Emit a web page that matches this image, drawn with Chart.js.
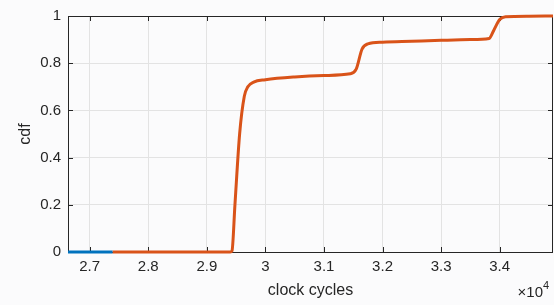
<!DOCTYPE html>
<html>
<head>
<meta charset="utf-8">
<script src="https://cdn.jsdelivr.net/npm/chart.js@4"></script>
<style>
  html, body { margin: 0; padding: 0; background: #fbfbfc; }
  #wrap { width: 554px; height: 305px; position: relative; }
</style>
</head>
<body>
<div id="wrap"><canvas id="cdfChart" width="554" height="305"></canvas></div>
<script>
// x range of the axes (clock cycles)
const xMin = 26630;
const xMax = 34910;
const xTicks = [27000, 28000, 29000, 30000, 31000, 32000, 33000, 34000];
const yTicks = [0, 0.2, 0.4, 0.6, 0.8, 1];

// blue series (only visible at the far left)
const blueX = [26630, 27390];
const blueY = [0, 0];

// orange series
const orangeX = [27390, 29400, 29430, 29480, 29560, 29640, 29700, 29800, 30000, 30500, 31000, 31450, 31550, 31650, 31750, 32000, 32500, 33000, 33500, 33820, 33900, 34000, 34100, 34500, 34910];
const orangeY = [0, 0, 0.005, 0.2, 0.5, 0.66, 0.70, 0.72, 0.73, 0.742, 0.748, 0.755, 0.775, 0.86, 0.882, 0.889, 0.893, 0.897, 0.900, 0.905, 0.94, 0.985, 0.997, 0.999, 1.0];

const toPoints = (xs, ys) => xs.map((x, i) => ({ x: x, y: ys[i] }));

const axisColor = '#262626';
const gridColor = '#e3e3e3';

// matlab style box with inward ticks, drawn under the lines
const boxPlugin = {
    id: 'boxTicks',
    beforeDatasetsDraw(chart) {
        const c = chart.ctx;
        const a = chart.chartArea;
        const xs = chart.scales.x;
        const ys = chart.scales.y;
        c.save();
        c.strokeStyle = axisColor;
        c.lineWidth = 1;
        c.beginPath();
        xTicks.forEach(v => {
            const px = Math.round(xs.getPixelForValue(v)) + 0.5;
            c.moveTo(px, a.bottom); c.lineTo(px, a.bottom - 5);
            c.moveTo(px, a.top); c.lineTo(px, a.top + 5);
        });
        yTicks.forEach(v => {
            const py = Math.round(ys.getPixelForValue(v)) + 0.5;
            c.moveTo(a.left, py); c.lineTo(a.left + 5, py);
            c.moveTo(a.right, py); c.lineTo(a.right - 5, py);
        });
        c.stroke();
        c.strokeRect(Math.round(a.left) + 0.5, Math.round(a.top) + 0.5,
            Math.round(a.right - a.left) - 1, Math.round(a.bottom - a.top));
        // x10^4 exponent label
        c.fillStyle = axisColor;
        c.font = '15px "Liberation Sans", Arial, sans-serif';
        c.textAlign = 'right';
        c.textBaseline = 'alphabetic';
        c.fillText('\u00d710', 543, 297);
        c.font = '11px "Liberation Sans", Arial, sans-serif';
        c.textAlign = 'left';
        c.fillText('4', 543, 289);
        c.restore();
    }
};

const ctx = document.getElementById('cdfChart').getContext('2d');

const cdfChart = new Chart(ctx, {
    type: 'line',
    data: {
        datasets: [{
            label: 'a',
            data: toPoints(blueX, blueY),
            borderColor: '#0072BD',
            borderWidth: 3,
            pointRadius: 0,
            fill: false,
            clip: 2
        },
        {
            label: 'b',
            data: toPoints(orangeX, orangeY),
            borderColor: '#D95319',
            borderWidth: 3,
            pointRadius: 0,
            fill: false,
            clip: 2,
            cubicInterpolationMode: 'monotone'
        }]
    },
    options: {
        responsive: false,
        animation: false,
        layout: { padding: { top: 14, right: 1, left: 0, bottom: 0 } },
        plugins: {
            legend: { display: false },
            tooltip: { enabled: false }
        },
        scales: {
            x: {
                type: 'linear',
                min: xMin,
                max: xMax,
                afterBuildTicks: s => { s.ticks = xTicks.map(v => ({ value: v })); },
                afterFit: s => { s.height = 53; },
                grid: { color: gridColor, drawTicks: false },
                border: { display: false },
                ticks: {
                    color: axisColor,
                    padding: 6,
                    font: { family: '"Liberation Sans", Arial, sans-serif', size: 15 },
                    callback: v => String(v / 10000)
                },
                title: {
                    display: true,
                    text: 'clock cycles',
                    color: axisColor,
                    padding: { top: 0, bottom: 5 },
                    font: { family: '"Liberation Sans", Arial, sans-serif', size: 16 }
                }
            },
            y: {
                min: 0,
                max: 1,
                afterBuildTicks: s => { s.ticks = yTicks.map(v => ({ value: v })); },
                afterFit: s => { s.width = 68; },
                grid: { color: gridColor, drawTicks: false },
                border: { display: false },
                ticks: {
                    color: axisColor,
                    padding: 7,
                    font: { family: '"Liberation Sans", Arial, sans-serif', size: 15 },
                    callback: v => String(v)
                },
                title: {
                    display: true,
                    text: 'cdf',
                    color: axisColor,
                    padding: { top: 16, bottom: 0 },
                    font: { family: '"Liberation Sans", Arial, sans-serif', size: 16 }
                }
            }
        }
    },
    plugins: [boxPlugin]
});
</script>
</body>
</html>
